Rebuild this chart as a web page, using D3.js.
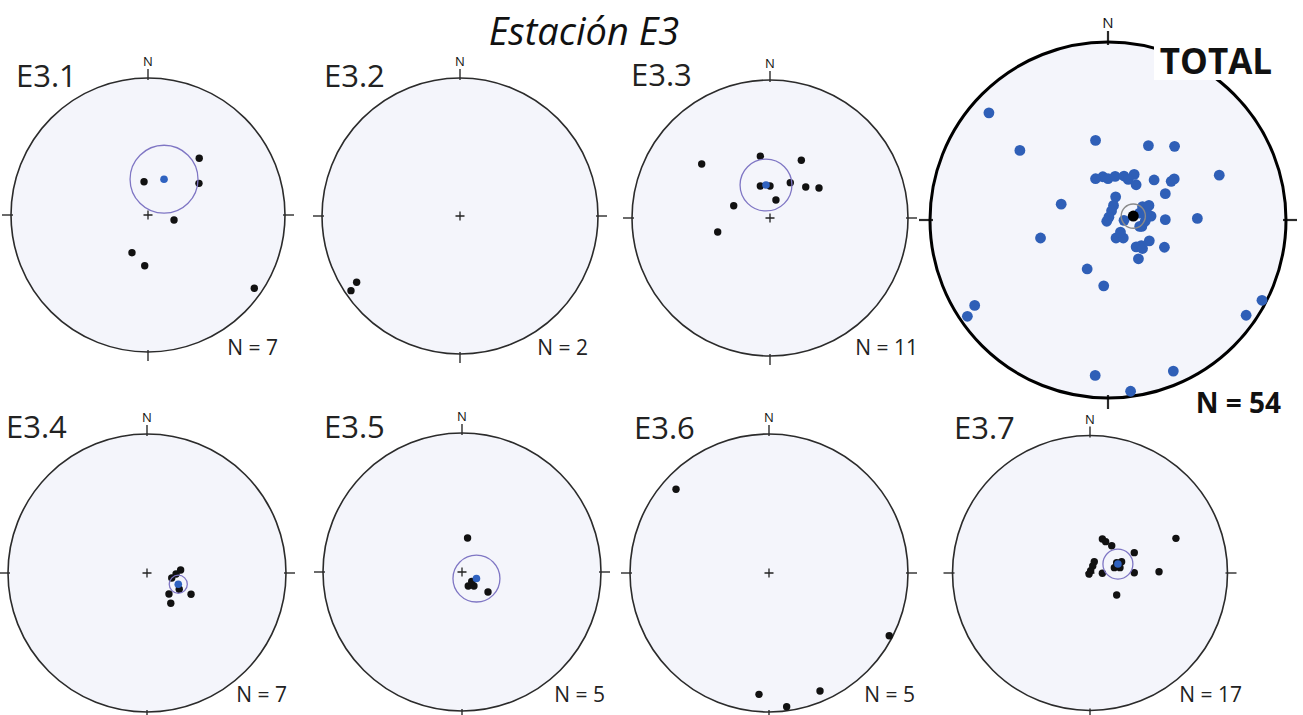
<!DOCTYPE html>
<html lang="es">
<head>
<meta charset="UTF-8">
<title>Estación E3</title>
<script src="https://cdn.jsdelivr.net/npm/d3@7"></script>
<style>
    body {
        margin: 0;
        background: #fff;
    }
    svg {
        display: block;
        font-family: 'Open Sans', sans-serif;
    }
    .net-bg { fill: #f4f5fb; }
    .net-rim { fill: none; stroke: #2b2b2b; stroke-width: 1.6; }
    .tick { stroke: #2b2b2b; stroke-width: 1.4; }
    .cross { stroke: #222; stroke-width: 1.3; }
    .label { font-size: 31px; fill: #222; }
    .count { font-size: 21px; fill: #222; }
    .north { font-size: 13px; fill: #111; }
    .title { font-size: 38px; font-style: italic; fill: #111; }
</style>
</head>
<body>
<svg width="1303" height="715"></svg>
<script>
// station names and number of measurements
const stations = ["E3.1", "E3.2", "E3.3", "E3.4", "E3.5", "E3.6", "E3.7"];
const counts = [7, 2, 11, 7, 5, 5, 17];

// poles, in projected (equal-area) coordinates: [east, north], unit circle = primitive
const e31 = [[0.374, 0.414], [-0.029, 0.243], [0.372, 0.231], [0.190, -0.036],
             [-0.117, -0.275], [-0.024, -0.370], [0.776, -0.535]];
const e32 = [[-0.749, -0.480], [-0.790, -0.541]];
const e33 = [[-0.495, 0.391], [-0.070, 0.447], [0.227, 0.418], [-0.070, 0.232],
             [0.000, 0.232], [0.147, 0.256], [0.259, 0.225], [0.355, 0.217],
             [-0.263, 0.089], [0.043, 0.130], [-0.379, -0.101]];
const e34 = [[0.242, 0.022], [0.209, -0.007], [0.178, -0.036], [0.232, -0.117],
             [0.158, -0.151], [0.317, -0.153], [0.171, -0.218]];
const e35 = [[0.040, 0.245], [0.045, -0.101], [0.086, -0.101], [0.070, -0.068],
             [0.187, -0.144]];
const e36 = [[-0.669, 0.602], [0.865, -0.451], [-0.072, -0.873], [0.367, -0.849],
             [0.127, -0.962]];
const e37 = [[0.625, 0.252], [0.090, 0.247], [0.114, 0.228], [0.158, 0.198],
             [0.322, 0.148], [0.031, 0.082], [0.020, 0.051], [0.005, 0.016],
             [-0.007, -0.007], [0.090, -0.002], [0.322, 0.002], [0.502, 0.009],
             [0.194, -0.160], [0.177, 0.039], [0.218, 0.039], [0.194, 0.075],
             [0.230, 0.082]];
const poles = [e31, e32, e33, e34, e35, e36, e37];

// mean vector and confidence cone radius for each station
const means = [[0.117, 0.261], null, [-0.029, 0.239], [0.225, -0.081],
               [0.104, -0.047], null, [0.203, 0.065]];
const cones = [0.248, null, 0.188, 0.065, 0.169, null, 0.109];

const totalMean = [0.142, 0.022];
const totalCone = 0.068;

// layout of the nets on the page
const layout = [
    { cx: 148, cy: 215, r: 137, lx: 16, ly: 87, nx: 278, ny: 355 },
    { cx: 460, cy: 216, r: 138, lx: 324, ly: 87, nx: 588, ny: 355 },
    { cx: 770, cy: 218, r: 138, lx: 631, ly: 86, nx: 918, ny: 355 },
    { cx: 147, cy: 573, r: 139, lx: 6, ly: 438, nx: 287, ny: 702 },
    { cx: 462, cy: 572, r: 139, lx: 324, ly: 438, nx: 605, ny: 702 },
    { cx: 769, cy: 573, r: 139, lx: 634, ly: 439, nx: 915, ny: 702 },
    { cx: 1090, cy: 573, r: 137.5, lx: 954, ly: 439, nx: 1242, ny: 702 }
];
const totalLayout = { cx: 1108, cy: 220, r: 178 };

const svg = d3.select("svg");

svg.append("text")
    .attr("class", "title")
    .attr("x", 584)
    .attr("y", 45)
    .attr("text-anchor", "middle")
    .text("Estación E3");

function drawNet(g, L, opts) {
    const x = d3.scaleLinear().domain([-1, 1]).range([L.cx - L.r, L.cx + L.r]);
    const y = d3.scaleLinear().domain([-1, 1]).range([L.cy + L.r, L.cy - L.r]);

    g.append("circle")
        .attr("class", "net-bg")
        .attr("cx", x(0)).attr("cy", y(0)).attr("r", L.r);

    // N, E, S, W ticks crossing the primitive
    const tin = opts.tickIn, tout = opts.tickOut;
    [[0, 1], [1, 0], [0, -1], [-1, 0]].forEach(([dx, dy]) => {
        g.append("line")
            .attr("class", "tick")
            .style("stroke-width", opts.tickWidth)
            .attr("x1", x(0) + dx * (L.r - tin)).attr("y1", y(0) - dy * (L.r - tin))
            .attr("x2", x(0) + dx * (L.r + tout)).attr("y2", y(0) - dy * (L.r + tout));
    });

    g.append("circle")
        .attr("class", "net-rim")
        .style("stroke-width", opts.rimWidth)
        .style("stroke", opts.rimColor)
        .attr("cx", x(0)).attr("cy", y(0)).attr("r", L.r);

    g.append("text")
        .attr("class", "north")
        .style("font-size", opts.northSize + "px")
        .attr("x", x(0))
        .attr("y", y(1) - tout - 3)
        .attr("text-anchor", "middle")
        .text("N");

    // centre cross
    const c = opts.cross;
    g.append("path")
        .attr("class", "cross")
        .attr("d", `M${x(0) - c},${y(0)}H${x(0) + c}M${x(0)},${y(0) - c}V${y(0) + c}`);

    g.selectAll(".pole")
        .data(opts.points)
        .join("circle")
        .attr("class", "pole")
        .attr("cx", d => x(d[0]))
        .attr("cy", d => y(d[1]))
        .attr("r", opts.pointR)
        .attr("fill", opts.pointColor);

    if (opts.mean) {
        g.append("circle")
            .attr("cx", x(opts.mean[0])).attr("cy", y(opts.mean[1]))
            .attr("r", x(opts.cone) - x(0))
            .attr("fill", "none")
            .attr("stroke", opts.coneColor)
            .attr("stroke-width", opts.coneWidth);
        g.append("circle")
            .attr("cx", x(opts.mean[0])).attr("cy", y(opts.mean[1]))
            .attr("r", opts.meanR)
            .attr("fill", opts.meanColor);
    }
}

stations.forEach((name, i) => {
    const L = layout[i];
    const g = svg.append("g");
    drawNet(g, L, {
        points: poles[i],
        mean: means[i],
        cone: cones[i],
        pointR: 3.7,
        pointColor: "#111",
        meanR: 3.8,
        meanColor: "#2f62c0",
        coneColor: "#7f76c4",
        coneWidth: 1.3,
        rimWidth: 1.6,
        rimColor: "#2b2b2b",
        tickIn: 2,
        tickOut: 9,
        tickWidth: 1.4,
        northSize: 13,
        cross: 4.5
    });
    g.append("text")
        .attr("class", "label")
        .attr("x", L.lx).attr("y", L.ly)
        .text(name);
    g.append("text")
        .attr("class", "count")
        .attr("x", L.nx).attr("y", L.ny)
        .attr("text-anchor", "end")
        .text("N = " + counts[i]);
});

// TOTAL net: all the poles together
const allPoles = d3.merge(poles);
const gt = svg.append("g");
drawNet(gt, totalLayout, {
    points: allPoles,
    mean: totalMean,
    cone: totalCone,
    pointR: 5.4,
    pointColor: "#2f5fb7",
    meanR: 5.5,
    meanColor: "#000",
    coneColor: "#8a8a8a",
    coneWidth: 1.4,
    rimWidth: 3,
    rimColor: "#000",
    tickIn: 3,
    tickOut: 11,
    tickWidth: 2.2,
    northSize: 15,
    cross: 5
});
gt.append("rect")
    .attr("x", 1154).attr("y", 43)
    .attr("width", 122).attr("height", 37)
    .attr("fill", "#fff");
gt.append("text")
    .attr("x", 1216).attr("y", 74)
    .attr("text-anchor", "middle")
    .style("font-size", "35px")
    .style("font-weight", 700)
    .attr("fill", "#111")
    .text("TOTAL");
gt.append("text")
    .attr("x", 1281).attr("y", 413)
    .attr("text-anchor", "end")
    .style("font-size", "28px")
    .style("font-weight", 700)
    .attr("fill", "#111")
    .text("N = " + allPoles.length);
</script>
</body>
</html>
